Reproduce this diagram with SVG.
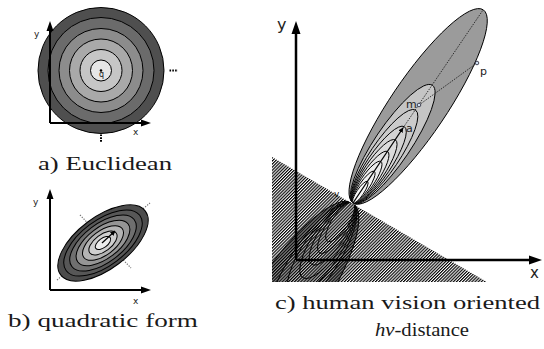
<svg xmlns="http://www.w3.org/2000/svg" width="544" height="349" viewBox="0 0 544 349">
<style>
.ring{stroke:#000;stroke-width:1}
.ax{stroke:#000;stroke-width:2;fill:none}
.axc{stroke:#000;stroke-width:2.5;fill:none}
.dot{stroke:#777;stroke-width:1.2;stroke-dasharray:1.3 1.3;fill:none}
.dotk{stroke:#000;stroke-width:2;stroke-dasharray:1.6 1.2;fill:none}
.dotc{stroke:#222;stroke-width:0.9;stroke-dasharray:1.5 1.2;fill:none}
.lbl{font-family:"DejaVu Sans",sans-serif;fill:#222}
.cap{font-family:"Liberation Serif",serif;font-size:19px;fill:#1a1a1a}
.el{stroke:#000;stroke-width:0.9}
.pt{fill:#cfe0f2;stroke:#223;stroke-width:0.8}
</style>
<defs>
<marker id="ah" viewBox="0 0 10 10" refX="9" refY="5" markerWidth="5" markerHeight="5" orient="auto" markerUnits="userSpaceOnUse">
<path d="M0,0 L10,5 L0,10 z" fill="#000"/>
</marker>
<pattern id="hatch" patternUnits="userSpaceOnUse" width="6" height="2.2" patternTransform="rotate(-45)">
<rect x="0" y="0" width="6" height="1.15" fill="#000"/>
</pattern>
<clipPath id="tri"><polygon points="272,157 272,282 487,282"/></clipPath>
</defs>

<g id="panel-a">
<g id="a-circles">
<circle class="ring" cx="101" cy="70.5" r="63" fill="#4f4f4f"/>
<circle class="ring" cx="101" cy="70.5" r="53" fill="#6b6b6b"/>
<circle class="ring" cx="101" cy="70.5" r="42" fill="#8c8c8c"/>
<circle class="ring" cx="101" cy="70.5" r="31.5" fill="#a9a9a9"/>
<circle class="ring" cx="101" cy="70.5" r="21" fill="#c6c6c6"/>
<circle class="ring" cx="101" cy="70.5" r="10.5" fill="#e6e6e6"/>
<circle cx="101" cy="70.5" r="1.3" fill="#000"/>
</g>
<text class="lbl" x="99" y="77" font-size="8">q</text>
<path class="dotk" d="M169.5,70.5 H178"/>
<path class="dotk" d="M101,134.5 V143"/>
<g id="a-axes">
<path class="ax" d="M50,123 V30 M50,123 H142"/>
<path d="M50,21 L46.5,31 L53.5,31 z M151,123 L141,119.5 L141,126.5 z" fill="#000"/>
<text class="lbl" x="34" y="37" font-size="9">y</text>
<text class="lbl" x="133" y="135" font-size="9">x</text>
</g>
<text class="cap" x="38" y="170" textLength="134" lengthAdjust="spacingAndGlyphs">a) Euclidean</text>
</g>

<g id="panel-b">
<path class="dot" d="M57,280 L150,203"/>
<path class="dot" d="M80,215 L131,268"/>
<g id="b-ellipses" transform="translate(103,243) rotate(-37)">
<ellipse class="ring" cx="0" cy="0" rx="53" ry="26" fill="#4c4c4c" stroke-width="1.3"/>
<ellipse class="ring" cx="0" cy="0" rx="46" ry="22.6" fill="#575757" stroke-width="1.3"/>
<ellipse class="ring" cx="0" cy="0" rx="39" ry="19.2" fill="#6f6f6f" stroke-width="1.3"/>
<ellipse class="ring" cx="0" cy="0" rx="31.5" ry="15.6" fill="#959595" stroke-width="1.3"/>
<ellipse class="ring" cx="0" cy="0" rx="24" ry="12" fill="#b4b4b4" stroke-width="1.3"/>
<ellipse class="ring" cx="0" cy="0" rx="16.5" ry="8.3" fill="#cfcfcf" stroke-width="1.3"/>
<ellipse class="ring" cx="0" cy="0" rx="9" ry="4.6" fill="#ececec" stroke-width="1.3"/>
</g>
<path d="M102,243 L115,231" stroke="#000" stroke-width="1.2" marker-end="url(#ah)"/>
<g id="b-axes">
<path class="ax" d="M50,290 V198 M50,290 H142"/>
<path d="M50,189 L46.5,199 L53.5,199 z M151,290 L141,286.5 L141,293.5 z" fill="#000"/>
<text class="lbl" x="33" y="205" font-size="9">y</text>
<text class="lbl" x="133" y="304" font-size="9">x</text>
</g>
<text class="cap" x="8" y="327" textLength="190" lengthAdjust="spacingAndGlyphs">b) quadratic form</text>
</g>

<g id="panel-c">
<g id="lower-family" clip-path="url(#tri)">
<g transform="translate(353,203) rotate(124)">
<ellipse class="el" cx="116.5" cy="0" rx="116.5" ry="34" fill="#8f8f8f"/>
<ellipse class="el" cx="71" cy="0" rx="71" ry="22" fill="#b0b0b0"/>
<ellipse class="el" cx="56" cy="0" rx="56" ry="18" fill="#bcbcbc"/>
<ellipse class="el" cx="45" cy="0" rx="45" ry="15" fill="#c6c6c6"/>
<ellipse class="el" cx="37" cy="0" rx="37" ry="12.5" fill="#d0d0d0"/>
<ellipse class="el" cx="30" cy="0" rx="30" ry="10" fill="#dadada"/>
<ellipse class="el" cx="23" cy="0" rx="23" ry="8" fill="#e4e4e4"/>
</g>
</g>
<text class="lbl" x="334" y="197" font-size="9" fill="#444">v</text>
<polygon id="hatch-region" points="272,157 272,282 487,282" fill="url(#hatch)"/>
<g id="upper-family" transform="translate(353,203) rotate(-56)">
<ellipse class="el" cx="116.5" cy="0" rx="116.5" ry="28" fill="#9b9b9b"/>
<ellipse class="el" cx="71" cy="0" rx="71" ry="18" fill="#c5c5c5"/>
<ellipse class="el" cx="56" cy="0" rx="56" ry="14.5" fill="#cbcbcb"/>
<ellipse class="el" cx="46" cy="0" rx="46" ry="12" fill="#d3d3d3"/>
<ellipse class="el" cx="38" cy="0" rx="38" ry="10" fill="#dcdcdc"/>
<ellipse class="el" cx="31" cy="0" rx="31" ry="8.2" fill="#e4e4e4"/>
<ellipse class="el" cx="25" cy="0" rx="25" ry="6.6" fill="#ececec"/>
<ellipse class="el" cx="19" cy="0" rx="19" ry="5" fill="#f2f2f2"/>
<ellipse class="el" cx="13" cy="0" rx="13" ry="3.5" fill="#f7f7f7"/>
</g>
<g id="connectors">
<path class="dotc" d="M403,128 L483,10"/>
<path class="dotc" d="M419,105 L477,63"/>
<path d="M353,203 L403,128" stroke="#000" stroke-width="1.3" marker-end="url(#ah)"/>
</g>
<g id="point-m"><circle class="pt" cx="419" cy="105" r="1.8"/><text class="lbl" x="406" y="108" font-size="11">m</text></g>
<g id="point-p"><circle class="pt" cx="477" cy="63" r="1.8"/><text class="lbl" x="480" y="75" font-size="11">p</text></g>
<g id="point-a"><text class="lbl" x="406" y="132" font-size="11">a</text></g>
<g id="c-axes">
<path class="axc" d="M296,260 V33 M296,260 H530"/>
<path d="M296,21 L291.5,34 L300.5,34 z M542,260 L529,255.5 L529,264.5 z" fill="#000"/>
<text class="lbl" x="277" y="30" font-size="16">y</text>
<text class="lbl" x="530" y="278" font-size="15">x</text>
</g>
<text class="cap" x="275" y="309" textLength="265" lengthAdjust="spacingAndGlyphs">c) human vision oriented</text>
<text class="cap" x="375" y="336" textLength="94" lengthAdjust="spacingAndGlyphs"><tspan font-style="italic">hv</tspan>-distance</text>
</g>
</svg>
